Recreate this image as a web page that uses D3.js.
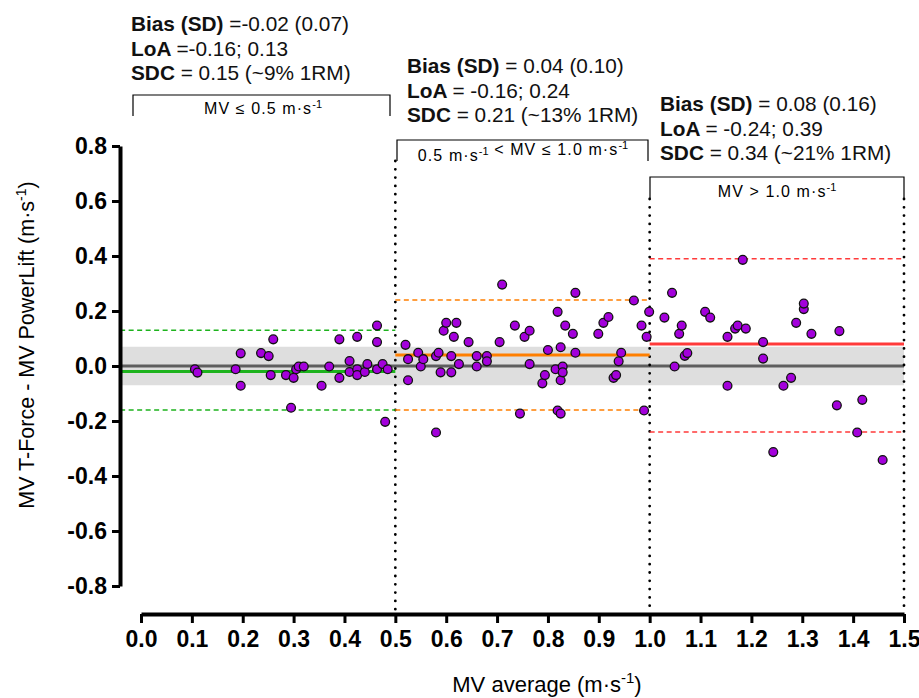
<!DOCTYPE html>
<html>
<head>
<meta charset="utf-8">
<script src="https://cdn.jsdelivr.net/npm/d3@7"></script>
<style>
  html, body { margin: 0; padding: 0; background: #fff; }
  svg text { font-family: Arial, "Liberation Sans", sans-serif; }
</style>
</head>
<body>
<svg id="chart" width="919" height="698"></svg>
<script>
// ── Data ────────────────────────────────────────────────
const xTicks = [0, 0.1, 0.2, 0.3, 0.4, 0.5, 0.6, 0.7, 0.8, 0.9, 1.0, 1.1, 1.2, 1.3, 1.4, 1.5];
const yTicks = [-0.8, -0.6, -0.4, -0.2, 0, 0.2, 0.4, 0.6, 0.8];

// [MV average, difference]
const pointsLow = [
  [0.106, -0.012], [0.111, -0.024], [0.186, -0.012], [0.196, 0.046], [0.196, -0.072],
  [0.236, 0.047], [0.251, 0.036], [0.260, 0.097], [0.255, -0.033], [0.285, -0.033],
  [0.295, -0.152], [0.300, -0.043], [0.305, -0.012], [0.310, -0.002], [0.320, -0.002],
  [0.355, -0.072], [0.370, -0.002], [0.390, 0.097], [0.390, -0.043], [0.410, 0.018],
  [0.410, -0.022], [0.425, 0.106], [0.425, -0.012], [0.425, -0.033], [0.440, -0.022],
  [0.445, 0.007], [0.464, 0.147], [0.464, 0.087], [0.464, -0.012], [0.475, 0.007],
  [0.480, -0.203], [0.485, -0.012]
];
const pointsMid = [
  [0.520, 0.077], [0.525, 0.025], [0.525, -0.052], [0.545, 0.048], [0.550, -0.002],
  [0.555, 0.025], [0.580, 0.036], [0.585, 0.048], [0.580, -0.242], [0.589, -0.023],
  [0.595, 0.128], [0.600, 0.157], [0.610, 0.036], [0.610, -0.023], [0.615, 0.106],
  [0.620, 0.157], [0.625, 0.007], [0.644, 0.087], [0.660, 0.036], [0.660, -0.002],
  [0.680, 0.036], [0.680, 0.017], [0.705, 0.087], [0.710, 0.296], [0.735, 0.147],
  [0.745, -0.173], [0.754, 0.106], [0.764, 0.128], [0.764, 0.007], [0.789, -0.063],
  [0.794, -0.033], [0.800, 0.058], [0.815, -0.012], [0.819, 0.197], [0.819, -0.162],
  [0.825, -0.173], [0.825, 0.068], [0.825, -0.052], [0.829, -0.002], [0.829, -0.023],
  [0.834, 0.147], [0.849, 0.117], [0.854, 0.266], [0.854, 0.048], [0.899, 0.117],
  [0.909, 0.157], [0.919, 0.178], [0.929, -0.043], [0.934, -0.033], [0.939, 0.017],
  [0.944, 0.048], [0.969, 0.238], [0.984, 0.147], [0.989, -0.162], [0.994, 0.106],
  [0.999, 0.197]
];
const pointsHigh = [
  [1.044, 0.266], [1.029, 0.176], [1.049, -0.002], [1.058, 0.117], [1.063, 0.147],
  [1.069, 0.037], [1.074, 0.047], [1.109, 0.197], [1.119, 0.176], [1.153, 0.106],
  [1.153, -0.072], [1.168, 0.136], [1.173, 0.147], [1.183, 0.386], [1.189, 0.136],
  [1.223, 0.087], [1.223, 0.027], [1.243, -0.313], [1.263, -0.072], [1.278, -0.043],
  [1.288, 0.157], [1.303, 0.207], [1.303, 0.227], [1.318, 0.117], [1.368, -0.143],
  [1.373, 0.127], [1.408, -0.242], [1.418, -0.123], [1.458, -0.342]
];

const biasValues  = [-0.02, 0.04, 0.08];
const loaLower    = [-0.16, -0.16, -0.24];
const loaUpper    = [0.13, 0.24, 0.39];
const groupRanges = [[-0.041, 0.5], [0.5, 1.0], [1.0, 1.5]];
const groupColors = ['#1db31d', '#ff7f00', '#ff3a3a'];
const bandSD      = 0.07;
const dividers    = [0.5, 1.0, 1.5];

const statText = [
  ['=-0.02 (0.07)', '=-0.16; 0.13', '= 0.15 (~9% 1RM)'],
  ['= 0.04 (0.10)', '= -0.16; 0.24', '= 0.21 (~13% 1RM)'],
  ['= 0.08 (0.16)', '= -0.24; 0.39', '= 0.34 (~21% 1RM)']
];
const statKeys = ['Bias (SD)', 'LoA', 'SDC'];

// ── Setup ───────────────────────────────────────────────
const svg = d3.select('#chart');
const x = d3.scaleLinear().domain([0, 1.5]).range([141, 904]);
const y = d3.scaleLinear().domain([-0.8, 0.8]).range([586, 146]);
const axisX0 = 120;      // y axis position
const axisY0 = 614;      // x axis position
const xLeft  = axisX0, xRight = x(1.5);
const NARROW = '"Liberation Sans Narrow", "Arial Narrow", Arial, sans-serif';

// grey ±SD band and zero line
svg.append('rect')
  .attr('x', xLeft).attr('y', y(bandSD))
  .attr('width', xRight - xLeft).attr('height', y(-bandSD) - y(bandSD))
  .attr('fill', '#dedede');

svg.append('line')
  .attr('x1', xLeft).attr('x2', xRight)
  .attr('y1', y(0)).attr('y2', y(0))
  .attr('stroke', '#5e5e5e').attr('stroke-width', 3);

// dotted dividers
const dividerTop = [161, 199, 199];
dividers.forEach((d, i) => {
  svg.append('line')
    .attr('x1', x(d)).attr('x2', x(d))
    .attr('y1', dividerTop[i]).attr('y2', axisY0 - 2)
    .attr('stroke', '#000').attr('stroke-width', 2.8)
    .attr('stroke-linecap', 'round')
    .attr('stroke-dasharray', '0 8.3');
});

// bias + LoA lines
groupRanges.forEach((r, i) => {
  const c = groupColors[i];
  [loaLower[i], loaUpper[i]].forEach(v => {
    svg.append('line')
      .attr('x1', Math.max(x(r[0]), xLeft)).attr('x2', x(r[1]))
      .attr('y1', y(v)).attr('y2', y(v))
      .attr('stroke', c).attr('stroke-width', 1.6)
      .attr('stroke-dasharray', '5,3.5');
  });
  svg.append('line')
    .attr('x1', Math.max(x(r[0]), xLeft)).attr('x2', x(r[1]))
    .attr('y1', y(biasValues[i])).attr('y2', y(biasValues[i]))
    .attr('stroke', c).attr('stroke-width', 3);
});

// points
const allPoints = pointsLow.concat(pointsMid, pointsHigh);
svg.append('g').selectAll('circle')
  .data(allPoints)
  .join('circle')
  .attr('cx', d => x(d[0]))
  .attr('cy', d => y(d[1]))
  .attr('r', 4.4)
  .attr('fill', '#a300db')
  .attr('stroke', '#111')
  .attr('stroke-width', 1.3);

// ── Axes ────────────────────────────────────────────────
const yAxis = svg.append('g')
  .attr('transform', `translate(${axisX0},0)`)
  .call(d3.axisLeft(y).tickValues(yTicks)
    .tickSize(8).tickSizeOuter(0).tickPadding(5));
yAxis.select('.domain').attr('stroke-width', 4);
yAxis.selectAll('.tick line').attr('stroke-width', 3);
yAxis.selectAll('.tick text')
  .attr('font-size', 23).attr('font-weight', 'bold').attr('fill', '#000')
  .text(d => d3.format('.1f')(d).replace('−', '-'));

const xAxis = svg.append('g')
  .attr('transform', `translate(0,${axisY0})`)
  .call(d3.axisBottom(x).tickValues(xTicks).tickFormat(d3.format('.1f'))
    .tickSize(9).tickSizeOuter(0).tickPadding(8));
xAxis.select('.domain').attr('stroke-width', 4);
xAxis.selectAll('.tick line').attr('stroke-width', 3);
xAxis.selectAll('.tick text')
  .attr('font-size', 23).attr('font-weight', 'bold').attr('fill', '#000')
  .attr('font-family', NARROW);

// axis titles
const xTitle = svg.append('text')
  .attr('x', 547).attr('y', 692)
  .attr('text-anchor', 'middle')
  .attr('font-size', 22)
  .attr('font-family', NARROW);
xTitle.append('tspan').text('MV average (m·s');
xTitle.append('tspan').attr('dy', -9).attr('font-size', 15).text('-1');
xTitle.append('tspan').attr('dy', 9).text(')');

const yTitle = svg.append('text')
  .attr('transform', 'translate(34,345) rotate(-90)')
  .attr('text-anchor', 'middle')
  .attr('font-size', 21.5);
yTitle.append('tspan').text('MV T-Force - MV PowerLift (m·s');
yTitle.append('tspan').attr('dy', -8).attr('font-size', 14).text('-1');
yTitle.append('tspan').attr('dy', 8).text(')');

// ── Brackets + range labels ─────────────────────────────
const brackets = [
  { x0: 133, x1: 390, top: 95 },
  { x0: 397, x1: 648, top: 140 },
  { x0: 650, x1: 904, top: 177 }
];
brackets.forEach(b => {
  svg.append('path')
    .attr('d', `M${b.x0},${b.top + 21}V${b.top}H${b.x1}V${b.top + 21}`)
    .attr('fill', 'none').attr('stroke', '#000').attr('stroke-width', 1.2);
});

function supLabel(cx, cy, parts) {
  const t = svg.append('text')
    .attr('x', cx).attr('y', cy)
    .attr('text-anchor', 'middle')
    .attr('font-size', 16)
    .attr('letter-spacing', 1.1);
  parts.forEach(p => {
    if (p.sup) {
      t.append('tspan').attr('dy', -6).attr('font-size', 11).attr('letter-spacing', 0).text(p.sup);
      t.append('tspan').attr('dy', 6).text('');
    } else {
      t.append('tspan').text(p.t);
    }
  });
}
supLabel(263, 114, [{ t: 'MV ≤ 0.5 m·s' }, { sup: '-1' }]);
supLabel(523, 161, [{ t: '0.5 m·s' }, { sup: '-1' }, { t: ' < MV ≤ 1.0 m·s' }, { sup: '-1' }]);
supLabel(777, 197, [{ t: 'MV > 1.0 m·s' }, { sup: '-1' }]);

// ── Stat annotations ────────────────────────────────────
const statPos = [[131, 31], [407, 73], [660, 111]];
statText.forEach((lines, i) => {
  const [sx, sy] = statPos[i];
  lines.forEach((txt, j) => {
    const t = svg.append('text')
      .attr('x', sx).attr('y', sy + j * 24.5)
      .attr('font-size', 20.8).attr('fill', '#111');
    t.append('tspan').attr('font-weight', 'bold').text(statKeys[j] + ' ');
    t.append('tspan').text(txt);
  });
});
</script>
</body>
</html>
